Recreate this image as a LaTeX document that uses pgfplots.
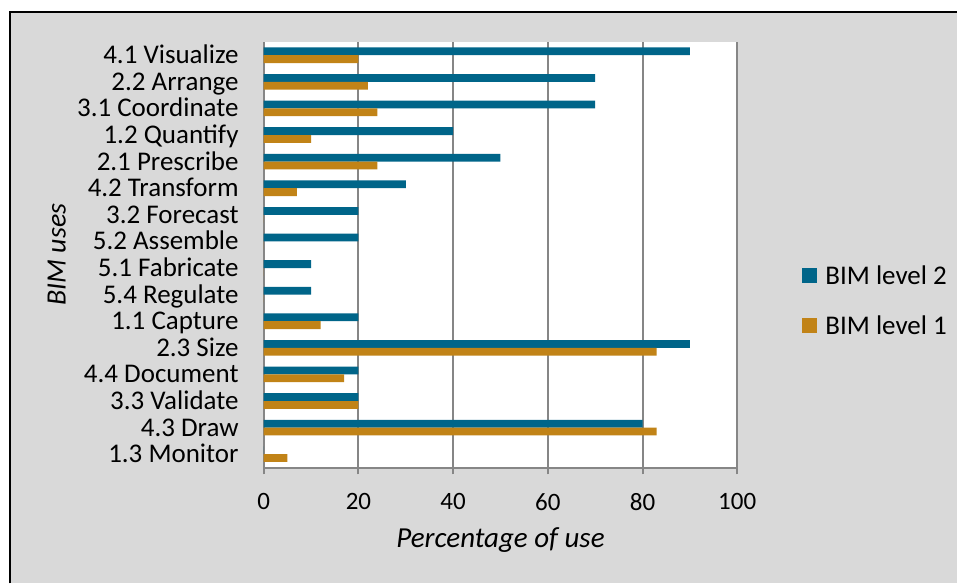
\documentclass[border=0pt]{standalone}
\usepackage{pgfplots}
\pgfplotsset{compat=1.18}
\usepackage{fontspec}
\setmainfont{Carlito}

\definecolor{lvltwo}{RGB}{0,101,137}
\definecolor{lvlone}{RGB}{193,131,23}
\definecolor{chartbg}{RGB}{217,217,217}
\definecolor{gridgray}{RGB}{134,134,134}

% Share of projects using each BIM use, listed bottom to top
\pgfplotstableread{
idx level2 level1
0  0  5
1  80 83
2  20 20
3  20 17
4  90 83
5  20 12
6  10 0
7  10 0
8  20 0
9  20 0
10 30 7
11 50 24
12 40 10
13 70 24
14 70 22
15 90 20
}\bimdata

\begin{document}
\begin{tikzpicture}
  % chart area
  \fill[white] (0pt,0pt) rectangle (958pt,584pt);
  \fill[chartbg] (10pt,0pt) rectangle (958pt,572pt);
  \draw[black, line width=2pt] (10pt,0pt) -- (10pt,572pt) -- (958pt,572pt);

  \begin{axis}[
    at={(264pt,116pt)}, anchor=south west,
    scale only axis, width=474pt, height=426pt,
    xbar, bar width=7.8pt,
    xmin=0, xmax=100,
    ymin=-0.5, ymax=15.5,
    xtick={0,20,...,100},
    ytick={0,...,15},
    yticklabels={1.3 Monitor,4.3 Draw,3.3 Validate,4.4 Document,2.3 Size,1.1 Capture,5.4 Regulate,5.1 Fabricate,5.2 Assemble,3.2 Forecast,4.2 Transform,2.1 Prescribe,1.2 Quantify,3.1 Coordinate,2.2 Arrange,4.1 Visualize},
    minor ytick={-0.5,0.5,...,15.5},
    axis x line*=bottom, axis y line*=left,
    axis line style={gridgray, line width=2pt},
    tick align=outside,
    major tick length=7pt, minor tick length=7pt,
    tick style={gridgray, line width=2pt},
    ytick style={draw=none},
    minor tick style={gridgray, line width=2pt},
    xmajorgrids, major grid style={gridgray, line width=2pt},
    axis background/.style={fill=white},
    /pgf/number format/assume math mode=true,
    xticklabel style={font=\fontsize{25}{30}\selectfont, anchor=north, inner sep=0pt, yshift=-19pt},
    yticklabel style={font=\fontsize{27}{30}\selectfont, anchor=base east, inner sep=0pt, xshift=-18pt, yshift=-8.5pt},
    xlabel={\itshape Percentage of use},
    ylabel={\itshape BIM uses},
    xlabel style={font=\fontsize{29}{32}\selectfont, at={(axis description cs:0.5,-0.171)}, anchor=center},
    ylabel style={font=\fontsize{28}{32}\selectfont, at={(axis description cs:-0.437,0.5)}, anchor=center, rotate=0},
    legend style={at={(1.131,0.392)}, anchor=west, draw=none, fill=none,
      font=\fontsize{27}{30}\selectfont, row sep=26pt,
      /tikz/every odd column/.style={column sep=6pt}},
    legend cell align=left,
    legend image code/.code={\fill[#1] (0pt,-7.5pt) rectangle (15pt,7.5pt);},
  ]
    \addplot[fill=lvltwo, draw=none, bar shift=3.9pt] table[x=level2, y=idx] {\bimdata};
    \addplot[fill=lvlone, draw=none, bar shift=-3.9pt] table[x=level1, y=idx] {\bimdata};
    \legend{BIM level 2, BIM level 1}
  \end{axis}
\end{tikzpicture}
\end{document}
